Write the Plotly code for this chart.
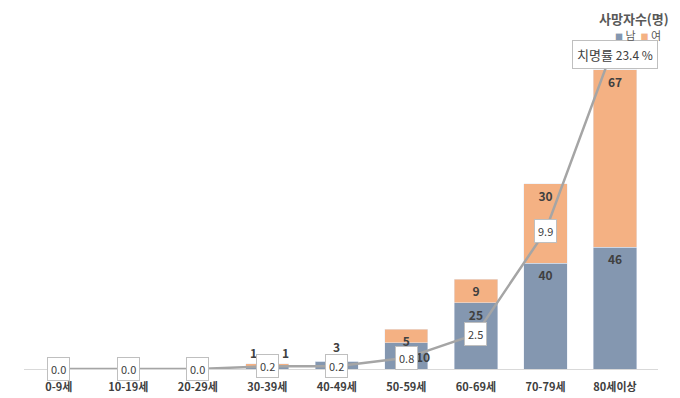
import plotly.graph_objects as go

categories = ["0-9세", "10-19세", "20-29세", "30-39세", "40-49세", "50-59세", "60-69세", "70-79세", "80세이상"]
male = [0, 0, 0, 1, 3, 10, 25, 40, 46]
female = [0, 0, 0, 1, 0, 5, 9, 30, 67]
fatality = [0.0, 0.0, 0.0, 0.2, 0.2, 0.8, 2.5, 9.9, 23.4]
series_names = ["남", "여"]

MALE_C = "#8497B0"
FEMALE_C = "#F4B183"
LINE_C = "#A5A5A5"
TXT = "#404040"
LEG = "#595959"
FONT = "Noto Sans CJK KR"
LBL = dict(family=FONT, size=12, color=TXT, weight="bold")

# the page body adds an 8px offset; size the figure to the visible area
W, H = 672, 390
L, R, T, B = 16, 22, 22, 29

def inside_label(v):
    return str(v) if v >= 5 else ""

male_text = [inside_label(v) if v != 10 else "" for v in male]
fig = go.Figure()
fig.add_trace(go.Bar(
    x=categories, y=male, name=series_names[0], marker_color=MALE_C,
    text=male_text, textposition="inside", insidetextanchor="end",
    constraintext="none", textangle=0, textfont=LBL,
))
fig.add_trace(go.Bar(
    x=categories, y=female, name=series_names[1], marker_color=FEMALE_C,
    text=[inside_label(v) for v in female], textposition="inside", insidetextanchor="end",
    constraintext="none", textangle=0, textfont=LBL,
))
fig.add_trace(go.Scatter(
    x=categories, y=fatality, yaxis="y2", mode="lines",
    line=dict(color=LINE_C, width=2.5), showlegend=False, hoverinfo="skip",
))

annotations = []
for i, (m, f) in enumerate(zip(male, female)):
    if 0 < m + f < 5:
        if m > 0 and f > 0:
            annotations.append(dict(x=categories[i], y=m + f, xref="x", yref="y", text=str(m),
                                    showarrow=False, yanchor="bottom", xshift=-14, yshift=1, font=LBL))
            annotations.append(dict(x=categories[i], y=m + f, xref="x", yref="y", text=str(f),
                                    showarrow=False, yanchor="bottom", xshift=18, yshift=1, font=LBL))
        else:
            annotations.append(dict(x=categories[i], y=m + f, xref="x", yref="y", text=str(m + f),
                                    showarrow=False, yanchor="bottom", xshift=0, yshift=4, font=LBL))
    if m == 10:
        # label nudged right of the rate box, as in the original
        annotations.append(dict(x=categories[i], y=m, xref="x", yref="y", text=str(m),
                                showarrow=False, yanchor="top", xshift=17, yshift=-3, font=LBL))

for i, v in enumerate(fatality):
    last = i == len(fatality) - 1
    annotations.append(dict(
        x=categories[i], y=v, xref="x", yref="y2",
        text=("치명률 <span style='font-size:12px'>%.1f %%</span>" % v) if last else "%.1f" % v,
        showarrow=False, bgcolor="white", bordercolor="#BFBFBF", borderwidth=1,
        borderpad=3 if not last else 4,
        yshift=-12 if last else 0,
        font=dict(family=FONT, size=11 if not last else 13, color=TXT),
    ))

# legend (title + compact swatches) drawn as text
annotations.append(dict(x=1, y=1, xref="paper", yref="paper", xanchor="right", yanchor="top",
                        xshift=12, yshift=T, borderpad=0, showarrow=False, text="사망자수(명)",
                        font=dict(family=FONT, size=13, color=LEG, weight="bold")))
annotations.append(dict(
    x=1, y=1, xref="paper", yref="paper", xanchor="right", yanchor="middle",
    xshift=4, yshift=-5, borderpad=0, showarrow=False,
    text=("<span style='color:%s;font-size:8px'>■</span> %s  "
          "<span style='color:%s;font-size:8px'>■</span> %s") % (MALE_C, series_names[0], FEMALE_C, series_names[1]),
    font=dict(family=FONT, size=11, color=LEG)))

fig.update_layout(
    width=W, height=H,
    margin=dict(l=L, r=R, t=T, b=B, autoexpand=False),
    paper_bgcolor="white", plot_bgcolor="white",
    barmode="stack", bargap=0.38,
    font=dict(family=FONT, color=TXT),
    xaxis=dict(showline=True, linecolor="#D9D9D9", linewidth=1, ticks="",
               tickfont=dict(family=FONT, size=11, color=TXT, weight="bold"),
               showgrid=False, automargin=False, ticklabelstandoff=8),
    yaxis=dict(range=[0, 128.1], visible=False, showgrid=False),
    yaxis2=dict(range=[0, 24.32], overlaying="y", side="right", visible=False, showgrid=False),
    annotations=annotations,
    showlegend=False,
)

fig.write_html("out.html")
